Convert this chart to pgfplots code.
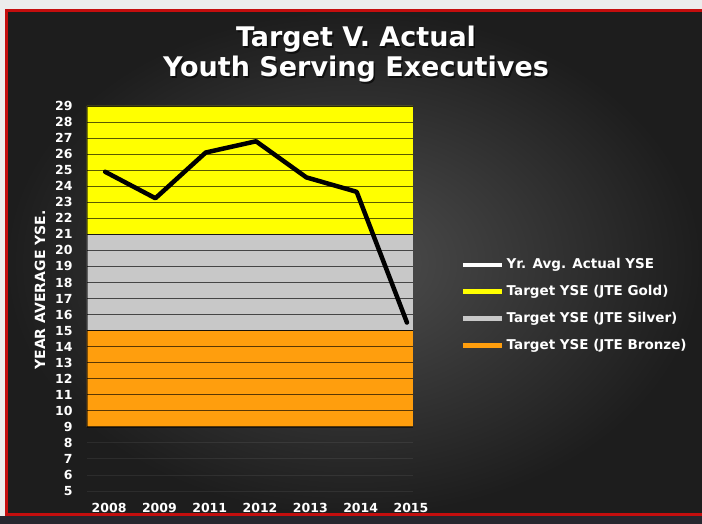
\documentclass[border=0pt]{standalone}
\usepackage{fontspec}
\setmainfont{DejaVu Sans}
\usepackage{pgfplots}
\pgfplotsset{compat=1.18}
\definecolor{bgin}{HTML}{4E4E4E}
\definecolor{bgout}{HTML}{1D1D1D}
\definecolor{frame}{HTML}{C40E0E}
\definecolor{gold}{HTML}{FFFF00}
\definecolor{silver}{HTML}{C8C8C8}
\definecolor{bronze}{HTML}{FF9E0D}
\definecolor{outside}{HTML}{ECECEC}
\definecolor{bottomdark}{HTML}{26262E}
\begin{document}
\begin{tikzpicture}[x=1pt,y=1pt]
\useasboundingbox (0,0) rectangle (702,524);
\fill[outside] (0,0) rectangle (702,524);
\fill[bottomdark] (0,0) rectangle (702,8);
\shade[inner color=bgin, outer color=bgout] (5,8) rectangle (702,514);
\draw[frame, line width=3pt] (6.5,9.5) rectangle (712,513.5);
% title
\node[anchor=base, text=black, opacity=0.6, font=\bfseries\fontsize{27}{30}\selectfont] at (357.5,475.5) {Target V. Actual};
\node[anchor=base, text=white, font=\bfseries\fontsize{27}{30}\selectfont] at (356,477) {Target V. Actual};
\node[anchor=base, text=black, opacity=0.6, font=\bfseries\fontsize{27}{30}\selectfont] at (357.5,445.5) {Youth Serving Executives};
\node[anchor=base, text=white, font=\bfseries\fontsize{27}{30}\selectfont] at (356,447) {Youth Serving Executives};
% y label
\node[rotate=90, text=white, font=\bfseries\fontsize{14}{16}\selectfont] at (40,234) {YEAR AVERAGE YSE.};
\begin{axis}[
  at={(87pt,33pt)}, anchor=south west,
  scale only axis, width=326pt, height=385pt,
  xmin=-0.36, xmax=6.12, ymin=5, ymax=29,
  axis on top,
  axis line style={draw=none},
  major tick length=0pt,
  xtick={0,...,6},
  xticklabels={2008,2009,2011,2012,2013,2014,2015},
  ytick={9,...,29},
  extra y ticks={5,6,7,8},
  extra y tick style={grid style={white, opacity=0.07, line width=0.9pt}},
  /pgf/number format/assume math mode=true,
  xticklabel style={text=white, font=\bfseries\fontsize{12.5}{14}\selectfont, anchor=center, yshift=-17pt, xshift=4pt},
  yticklabel style={text=white, font=\bfseries\fontsize{12.5}{14}\selectfont, anchor=east, xshift=-11pt},
  ymajorgrids,
  grid style={black, opacity=0.65, line width=0.9pt},
  legend image code/.code={\draw[#1] (0pt,0pt) -- (39pt,0pt);},
  legend cell align=left,
  legend style={draw=none, fill=none, text=white,
    font=\bfseries\fontsize{13.5}{16}\selectfont,
    at={(1.138,0.483)}, anchor=west,
    nodes={text height=10pt, text depth=3pt, inner ysep=7pt}},
]
\addplot[fill=gold, draw=black, draw opacity=0.5, forget plot] coordinates {(-0.36,21) (6.12,21) (6.12,29) (-0.36,29) (-0.36,21)};
\addplot[fill=silver, draw=black, draw opacity=0.5, forget plot] coordinates {(-0.36,15) (6.12,15) (6.12,21) (-0.36,21) (-0.36,15)};
\addplot[fill=bronze, draw=black, draw opacity=0.5, forget plot] coordinates {(-0.36,9) (6.12,9) (6.12,15) (-0.36,15) (-0.36,9)};
\addplot[black, line width=4.5pt, line join=round, line cap=round, forget plot] coordinates {
 (0,24.9) (1,23.25) (2,26.1) (3,26.8) (4,24.55) (5,23.65) (6,15.5)};
\addlegendimage{white, line width=4pt}
\addlegendimage{gold, line width=4.5pt}
\addlegendimage{silver, line width=4.5pt}
\addlegendimage{bronze, line width=4.5pt}
\legend{Yr. Avg. Actual YSE, Target YSE (JTE Gold), Target YSE (JTE Silver), Target YSE (JTE Bronze)}
\end{axis}
\end{tikzpicture}
\end{document}
